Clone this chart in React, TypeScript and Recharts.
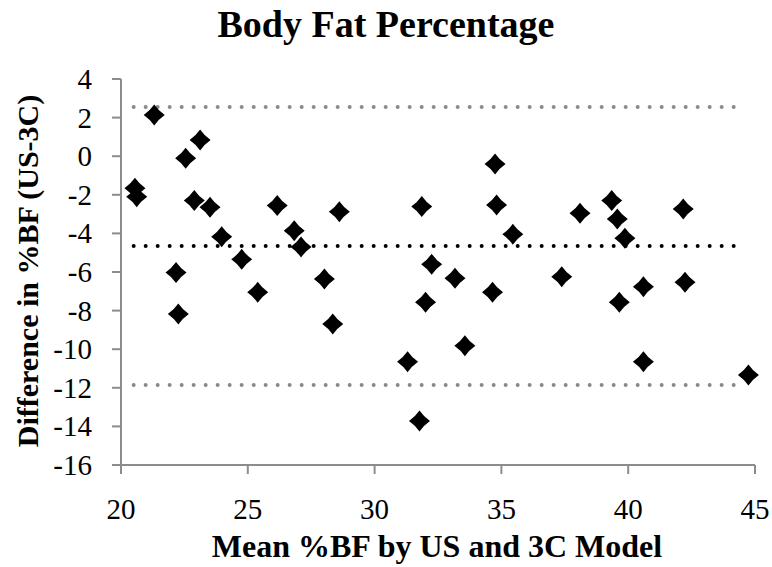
import React from "react";
import { ScatterChart, Scatter, XAxis, YAxis, ReferenceLine } from "recharts";

// Bland-Altman data: mean %BF (US & 3C) vs difference (US-3C)
const meanBF = [
  20.55, 20.62, 21.31, 22.55, 23.12, 22.89, 23.51, 23.97, 24.76, 26.16,
  26.83, 27.1, 28.61, 22.17, 22.26, 25.39, 28.02, 28.35, 31.86, 34.75,
  34.81, 35.45, 38.1, 39.35, 39.57, 39.87, 42.17, 32.25, 33.17, 32.01,
  34.65, 33.56, 31.3, 31.77, 37.38, 39.65, 40.6, 42.24, 40.6, 44.74,
];
const diffBF = [
  -1.66, -2.1, 2.13, -0.11, 0.84, -2.3, -2.65, -4.17, -5.34, -2.56,
  -3.86, -4.7, -2.88, -6.03, -8.18, -7.05, -6.36, -8.69, -2.61, -0.4,
  -2.53, -4.05, -2.96, -2.3, -3.25, -4.25, -2.74, -5.6, -6.33, -7.57,
  -7.05, -9.82, -10.65, -13.72, -6.24, -7.57, -6.76, -6.53, -10.65, -11.34,
];

const meanDiff = -4.65;
const upperLoA = 2.55;
const lowerLoA = -11.85;
const lineStart = 20.5;
const lineEnd = 44.5;

const xTicks = [20, 25, 30, 35, 40, 45];
const yTicks = [4, 2, 0, -2, -4, -6, -8, -10, -12, -14, -16];

const points = meanBF.map((x, i) => ({ x, y: diffBF[i] }));

const FONT = "'Liberation Serif', 'Times New Roman', serif";
const AXIS_GREY = "#8c8c8c";

const Diamond = (props: any) => {
  const { cx, cy } = props;
  const r = 10.5;
  const c = 4.3;
  const d = `M${cx},${cy - r} Q${cx + c},${cy - c} ${cx + r},${cy} Q${cx + c},${cy + c} ${cx},${cy + r} Q${cx - c},${cy + c} ${cx - r},${cy} Q${cx - c},${cy - c} ${cx},${cy - r} Z`;
  return <path d={d} fill="#000" />;
};

const renderXTick = (props: any) => {
  const { x, y, payload } = props;
  return (
    <text
      x={x}
      y={y + 43}
      textAnchor="middle"
      fontFamily={FONT}
      style={{ fontFamily: FONT }}
      fontSize={29}
      fill="#000"
    >
      {payload.value}
    </text>
  );
};

const renderYTick = (props: any) => {
  const { y, payload } = props;
  return (
    <text
      x={92}
      y={y + 10}
      textAnchor="end"
      fontFamily={FONT}
      style={{ fontFamily: FONT }}
      fontSize={29}
      fill="#000"
    >
      {payload.value}
    </text>
  );
};

const dotted = {
  strokeWidth: 4,
  strokeDasharray: "0 12",
  strokeLinecap: "round" as const,
  ifOverflow: "visible" as const,
};

export default function App() {
  return (
    <div style={{ position: "absolute", left: 0, top: 0, width: 772, height: 567, background: "#fff", fontFamily: FONT }}>
      <ScatterChart
        width={772}
        height={567}
        margin={{ top: 79, right: 17, bottom: 42, left: 0 }}
        style={{ fontFamily: FONT }}
      >
        <XAxis
          type="number"
          dataKey="x"
          domain={[20, 45]}
          ticks={xTicks}
          interval={0}
          height={60}
          tickSize={9}
          axisLine={{ stroke: AXIS_GREY, strokeWidth: 2 }}
          tickLine={{ stroke: AXIS_GREY, strokeWidth: 2 }}
          tick={renderXTick}
          label={{
            content: () => (
              <g>
                <text x={386} y={37} textAnchor="middle" fontFamily={FONT} fontWeight="bold" fontSize={38} fill="#000">
                  Body Fat Percentage
                </text>
                <text x={437} y={557} textAnchor="middle" fontFamily={FONT} fontWeight="bold" fontSize={32} fill="#000">
                  Mean %BF by US and 3C Model
                </text>
              </g>
            ),
          }}
        />
        <YAxis
          type="number"
          dataKey="y"
          domain={[-16, 4]}
          ticks={yTicks}
          interval={0}
          width={121}
          tickSize={9}
          axisLine={{ stroke: AXIS_GREY, strokeWidth: 2 }}
          tickLine={{ stroke: AXIS_GREY, strokeWidth: 2 }}
          tick={renderYTick}
          label={{
            content: () => (
              <text
                x={38}
                y={271}
                transform="rotate(-90 38 271)"
                textAnchor="middle"
                fontFamily={FONT}
                fontWeight="bold"
                fontSize={30}
                fill="#000"
              >
                Difference in %BF (US-3C)
              </text>
            ),
          }}
        />
        <ReferenceLine
          segment={[{ x: lineStart, y: upperLoA }, { x: lineEnd, y: upperLoA }]}
          stroke="#8a8a8a"
          {...dotted}
        />
        <ReferenceLine
          segment={[{ x: lineStart, y: lowerLoA }, { x: lineEnd, y: lowerLoA }]}
          stroke="#8a8a8a"
          {...dotted}
        />
        <ReferenceLine
          segment={[{ x: lineStart, y: meanDiff }, { x: lineEnd, y: meanDiff }]}
          stroke="#000"
          {...dotted}
        />
        <Scatter data={points} shape={Diamond} isAnimationActive={false} />
      </ScatterChart>
    </div>
  );
}
